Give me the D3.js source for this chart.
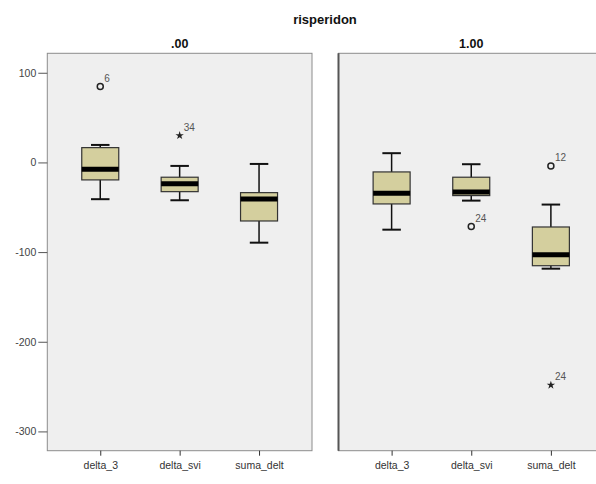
<!DOCTYPE html>
<html>
<head>
<meta charset="utf-8">
<script src="https://cdn.jsdelivr.net/npm/d3@7"></script>
<style>
  body { margin: 0; background: #fff; }
  svg { display: block; font-family: "Liberation Sans", Arial, sans-serif; }
</style>
</head>
<body>
<div id="chart"></div>
<script>
// data
const title = 'risperidon';
const panels = ['.00', '1.00'];
const categories = ['delta_3', 'delta_svi', 'suma_delt'];
const yTicks = [100, 0, -100, -200, -300];

// per panel, per category
const whiskerHi = [[19.5, -3.9, -1.7], [10.3, -2, -47]];
const q3 = [[16.5, -16.5, -33.7], [-10.6, -16.5, -72]];
const median = [[-7.6, -23.7, -40.7], [-34.4, -32.9, -102.9]];
const q1 = [[-19.5, -32.6, -65.3], [-46.3, -37, -115.2]];
const whiskerLo = [[-41, -42.2, -89.5], [-75, -42.6, -118.5]];

// outliers: panel, category, value, case label, kind
const outliers = [
  {p: 0, c: 'delta_3', v: 84.6, lab: '6', kind: 'o'},
  {p: 0, c: 'delta_svi', v: 30, lab: '34', kind: '*'},
  {p: 1, c: 'delta_svi', v: -71.6, lab: '24', kind: 'o'},
  {p: 1, c: 'suma_delt', v: -3.9, lab: '12', kind: 'o'},
  {p: 1, c: 'suma_delt', v: -248.3, lab: '24', kind: '*'}
];

const width = 596, height = 484;
const plotTop = 53.3, plotBottom = 450.7;
const panelEdges = [[47.3, 312], [338.5, 604]];

const svg = d3.select('#chart').append('svg')
  .attr('width', width)
  .attr('height', height);

const y = d3.scaleLinear()
  .domain([-321.5, 121.7])
  .range([plotBottom, plotTop]);

const boxW = 37;

svg.append('text')
  .attr('x', 325).attr('y', 24)
  .attr('text-anchor', 'middle')
  .style('font-size', '13px').style('font-weight', 'bold')
  .style('fill', '#111')
  .text(title);

panels.forEach((pname, pi) => {
  const [x0, x1] = panelEdges[pi];
  const x = d3.scalePoint()
    .domain(categories)
    .range([x0, x1])
    .padding(0.667);

  const g = svg.append('g');

  g.append('rect')
    .attr('x', x0).attr('y', plotTop)
    .attr('width', x1 - x0).attr('height', plotBottom - plotTop)
    .style('fill', '#efefef')
    .style('stroke', '#8c8c8c')
    .style('stroke-width', 1);

  // left border of the second panel is heavier
  if (pi === 1) {
    g.append('line')
      .attr('x1', x0).attr('x2', x0)
      .attr('y1', plotTop).attr('y2', plotBottom)
      .style('stroke', '#555').style('stroke-width', 2);
  }

  g.append('text')
    .attr('x', x('delta_svi')).attr('y', 48)
    .attr('text-anchor', 'middle')
    .style('font-size', '12.5px').style('font-weight', 'bold')
    .style('fill', '#111')
    .text(pname);

  // x axis
  const xAxis = g.append('g')
    .attr('transform', `translate(0,${plotBottom})`)
    .call(d3.axisBottom(x).tickSize(5).tickPadding(6));
  xAxis.select('.domain').remove();
  xAxis.selectAll('line').style('stroke', '#333');
  xAxis.selectAll('text')
    .style('font-size', '10.5px')
    .style('font-family', '"Liberation Sans", Arial, sans-serif')
    .style('fill', '#333');

  if (pi === 0) {
    const yAxis = g.append('g')
      .attr('transform', `translate(${x0},0)`)
      .call(d3.axisLeft(y).tickValues(yTicks).tickFormat(d => String(d))
        .tickSize(9).tickPadding(2));
    yAxis.select('.domain').remove();
    yAxis.selectAll('line').style('stroke', '#555');
    yAxis.selectAll('text')
      .style('font-size', '10.5px')
      .style('font-family', '"Liberation Sans", Arial, sans-serif')
      .style('fill', '#444');
  }

  categories.forEach((cat, ci) => {
    const cx = x(cat);
    // whisker stems
    g.append('line')
      .attr('x1', cx).attr('x2', cx)
      .attr('y1', y(whiskerHi[pi][ci])).attr('y2', y(whiskerLo[pi][ci]))
      .style('stroke', '#111').style('stroke-width', 1.5);
    [whiskerHi[pi][ci], whiskerLo[pi][ci]].forEach(v => {
      g.append('line')
        .attr('x1', cx - boxW / 4).attr('x2', cx + boxW / 4)
        .attr('y1', y(v)).attr('y2', y(v))
        .style('stroke', '#111').style('stroke-width', 2);
    });
    // box
    g.append('rect')
      .attr('x', cx - boxW / 2)
      .attr('y', y(q3[pi][ci]))
      .attr('width', boxW)
      .attr('height', y(q1[pi][ci]) - y(q3[pi][ci]))
      .style('fill', '#d4cf9e')
      .style('stroke', '#333')
      .style('stroke-width', 1.2);
    // median
    g.append('line')
      .attr('x1', cx - boxW / 2).attr('x2', cx + boxW / 2)
      .attr('y1', y(median[pi][ci])).attr('y2', y(median[pi][ci]))
      .style('stroke', '#000').style('stroke-width', 5);
  });

  outliers.filter(o => o.p === pi).forEach(o => {
    const cx = x(o.c), cy = y(o.v);
    if (o.kind === 'o') {
      g.append('circle')
        .attr('cx', cx).attr('cy', cy).attr('r', 3)
        .style('fill', 'none').style('stroke', '#222').style('stroke-width', 1.5);
    } else {
      g.append('path')
        .attr('transform', `translate(${cx},${cy})`)
        .attr('d', d3.symbol(d3.symbolStar, 22)())
        .style('fill', '#222');
    }
    g.append('text')
      .attr('x', cx + 4).attr('y', cy - 5)
      .style('font-size', '10px')
      .style('fill', '#555')
      .text(o.lab);
  });
});
</script>
</body>
</html>
